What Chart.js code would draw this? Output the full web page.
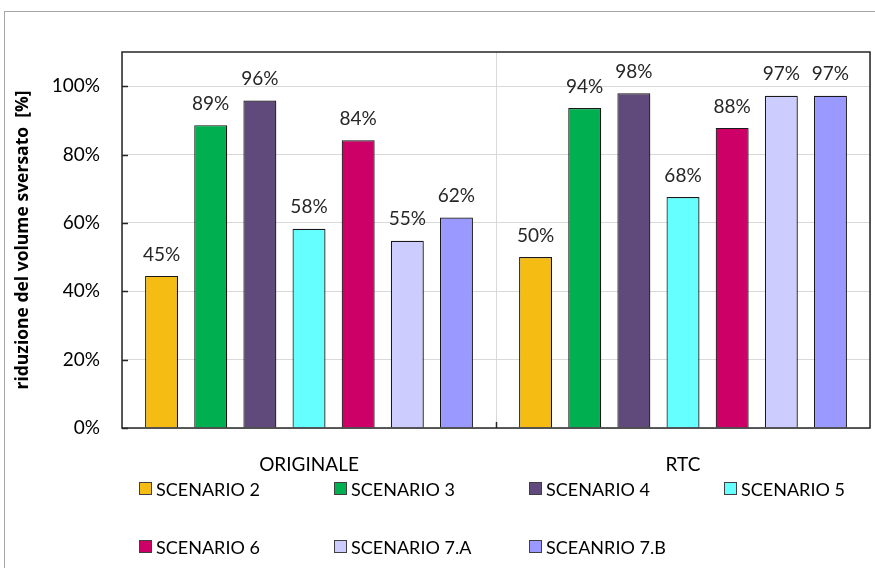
<!DOCTYPE html>
<html>
<head>
<meta charset="utf-8">
<script src="https://cdn.jsdelivr.net/npm/chart.js@4"></script>
<style>
  html, body { margin: 0; padding: 0; background: #fff; }
  #wrap { width: 875px; height: 568px; position: relative; }
</style>
</head>
<body>
<div id="wrap"><canvas id="c"></canvas></div>
<script>
// Categories and series
const categories = ['ORIGINALE', 'RTC'];
const seriesNames = ['SCENARIO 2', 'SCENARIO 3', 'SCENARIO 4', 'SCENARIO 5', 'SCENARIO 6', 'SCENARIO 7.A', 'SCEANRIO 7.B'];
const scenario2  = [44.5, 50.0];
const scenario3  = [88.6, 93.6];
const scenario4  = [95.8, 97.9];
const scenario5  = [58.3, 67.6];
const scenario6  = [84.2, 87.8];
const scenario7A = [54.8, 97.2];
const scenario7B = [61.6, 97.2];
const yTicks = [0, 20, 40, 60, 80, 100];
const seriesColors = ['#F5BD14', '#00B050', '#604A7B', '#66FFFF', '#CC0066', '#CCCCFF', '#9999FF'];

const seriesValues = [scenario2, scenario3, scenario4, scenario5, scenario6, scenario7A, scenario7B];
const FONT = 'Lato, "Open Sans", sans-serif';

// Outer frame, plot border and inward tick marks
const framePlugin = {
  id: 'frame',
  beforeDraw(chart) {
    const ctx = chart.ctx;
    ctx.save();
    ctx.strokeStyle = '#a6a6a6';
    ctx.lineWidth = 1;
    ctx.strokeRect(4.5, 11.5, 1000, 1000);
    ctx.restore();
  },
  afterDraw(chart) {
    const ctx = chart.ctx;
    const a = chart.chartArea;
    const y = chart.scales.y;
    ctx.save();
    ctx.strokeStyle = '#262626';
    ctx.lineWidth = 1.5;
    ctx.strokeRect(a.left, a.top, a.right - a.left, a.bottom - a.top);
    yTicks.forEach(v => {
      const py = Math.round(y.getPixelForValue(v)) + 0.5;
      ctx.beginPath();
      ctx.moveTo(a.left, py);
      ctx.lineTo(a.left + 6, py);
      ctx.stroke();
    });
    const mid = Math.round((a.left + a.right) / 2) + 0.5;
    ctx.beginPath();
    ctx.moveTo(mid, a.bottom);
    ctx.lineTo(mid, a.bottom - 6);
    ctx.stroke();
    ctx.restore();
  }
};

// Soft shadow under the bars
const shadowPlugin = {
  id: 'barShadow',
  beforeDatasetsDraw(chart) {
    const ctx = chart.ctx;
    ctx.save();
    ctx.shadowColor = 'rgba(0,0,0,0.22)';
    ctx.shadowBlur = 3;
    ctx.shadowOffsetX = 2;
    ctx.shadowOffsetY = 1;
  },
  afterDatasetsDraw(chart) {
    chart.ctx.restore();
  }
};

// Value labels above each bar
const valueLabelPlugin = {
  id: 'valueLabels',
  afterDatasetsDraw(chart) {
    const ctx = chart.ctx;
    ctx.save();
    ctx.font = '19px ' + FONT;
    ctx.fillStyle = '#262626';
    ctx.textAlign = 'center';
    ctx.textBaseline = 'bottom';
    chart.data.datasets.forEach((ds, i) => {
      const meta = chart.getDatasetMeta(i);
      meta.data.forEach((bar, j) => {
        ctx.fillText(Math.round(ds.data[j]) + '%', bar.x, bar.y - 12);
      });
    });
    ctx.restore();
  }
};

// Legend laid out in a 4-column grid
const gridLegendPlugin = {
  id: 'gridLegend',
  afterDraw(chart) {
    const ctx = chart.ctx;
    const cols = [139, 334, 529, 724];
    const rows = [489, 547];
    ctx.save();
    ctx.font = '18px ' + FONT;
    ctx.textAlign = 'left';
    ctx.textBaseline = 'middle';
    chart.data.datasets.forEach((ds, i) => {
      const x = cols[i % 4];
      const y = rows[Math.floor(i / 4)];
      ctx.fillStyle = ds.backgroundColor;
      ctx.fillRect(x + 0.5, y - 6.5, 12, 12);
      ctx.strokeStyle = '#404040';
      ctx.lineWidth = 1;
      ctx.strokeRect(x + 0.5, y - 6.5, 12, 12);
      ctx.fillStyle = '#000';
      ctx.fillText(ds.label, x + 17, y + 1);
    });
    ctx.restore();
  }
};

new Chart(document.getElementById('c'), {
  type: 'bar',
  data: {
    labels: categories,
    datasets: seriesNames.map((name, i) => ({
      label: name,
      data: seriesValues[i],
      backgroundColor: seriesColors[i],
      borderColor: '#1a1a1a',
      borderWidth: 1.2,
      categoryPercentage: 0.92,
      barPercentage: 0.67
    }))
  },
  options: {
    responsive: true,
    maintainAspectRatio: false,
    animation: false,
    layout: { padding: { top: 52, right: 5, left: 0, bottom: 0 } },
    plugins: {
      legend: { display: false },
      tooltip: { enabled: false }
    },
    scales: {
      x: {
        offset: true,
        grid: { display: true, offset: true, color: '#d9d9d9', drawTicks: false },
        border: { display: false },
        ticks: { font: { family: FONT, size: 19 }, color: '#000', padding: 25 },
        afterFit(scale) { scale.height = 140; }
      },
      y: {
        min: 0,
        max: 110,
        grid: { color: '#d9d9d9', drawTicks: false },
        border: { display: false },
        ticks: {
          stepSize: 20,
          includeBounds: false,
          padding: 22,
          font: { family: FONT, size: 19 },
          color: '#000',
          callback: v => v + '%'
        },
        title: {
          display: true,
          text: 'riduzione del volume sversato  [%]',
          font: { family: '"Open Sans", sans-serif', size: 17.5, weight: 'bold' },
          color: '#000',
          padding: { top: 13, bottom: 0 }
        },
        afterFit(scale) { scale.width = 122; }
      }
    }
  },
  plugins: [framePlugin, shadowPlugin, valueLabelPlugin, gridLegendPlugin]
});
</script>
</body>
</html>
